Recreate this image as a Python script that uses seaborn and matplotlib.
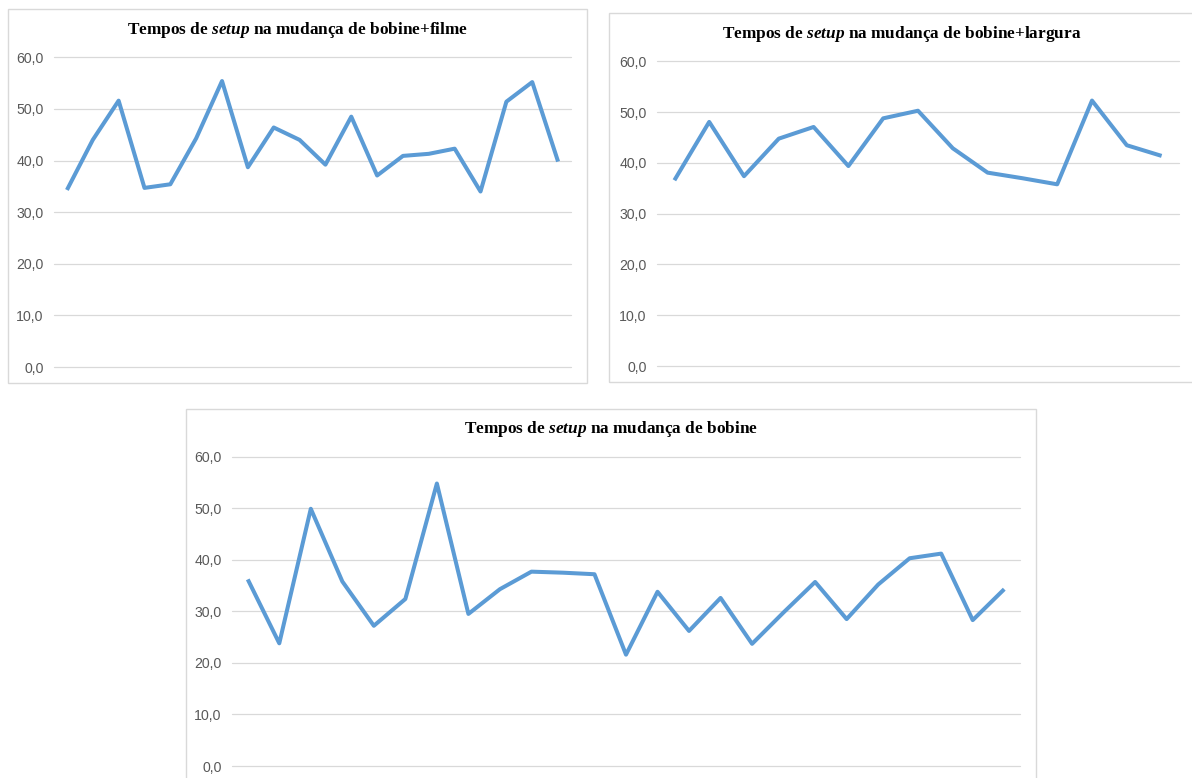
import numpy as np
import matplotlib
matplotlib.use("Agg")
import matplotlib.pyplot as plt
from matplotlib.patches import Rectangle
import seaborn as sns

# Setup times (minutes) for each changeover type
filme = [34.3, 44.0, 51.6, 34.7, 35.4, 44.3, 55.4, 38.7, 46.4, 44.0,
         39.2, 48.5, 37.1, 40.9, 41.3, 42.3, 34.0, 51.4, 55.2, 39.8]
largura = [36.6, 48.1, 37.4, 44.8, 47.1, 39.4, 48.8, 50.3, 42.9, 38.1,
           37.0, 35.8, 52.3, 43.5, 41.4]
bobine = [36.2, 23.8, 49.9, 35.8, 27.2, 32.4, 54.8, 29.5, 34.3, 37.7,
          37.5, 37.2, 21.6, 33.8, 26.2, 32.6, 23.7, 29.8, 35.7, 28.5,
          35.2, 40.3, 41.2, 28.3, 34.3]

y_ticks = [0, 10, 20, 30, 40, 50, 60]
y_labels = ["0,0", "10,0", "20,0", "30,0", "40,0", "50,0", "60,0"]

titles = [
    r"Tempos de $\mathit{setup}$ na mudança de bobine+filme",
    r"Tempos de $\mathit{setup}$ na mudança de bobine+largura",
    r"Tempos de $\mathit{setup}$ na mudança de bobine",
]

sns.set_theme(style="white")
plt.rcParams["font.family"] = ["Liberation Sans", "DejaVu Sans"]
plt.rcParams["mathtext.fontset"] = "custom"
plt.rcParams["mathtext.rm"] = "Liberation Serif:bold"
plt.rcParams["mathtext.bf"] = "Liberation Serif:bold"
plt.rcParams["mathtext.it"] = "Liberation Serif:italic:bold"

W, H = 1192, 778
fig = plt.figure(figsize=(W / 100, H / 100), dpi=100)
fig.patch.set_facecolor("white")

LINE = "#5B9BD5"
GRID = "#D9D9D9"
BORDER = "#D9D9D9"


def box(l, t, r, b):
    return [l / W, 1 - b / H, (r - l) / W, (b - t) / H]


def frame(l, t, r, b):
    fig.patches.append(Rectangle((l / W, 1 - b / H), (r - l) / W, (b - t) / H,
                                 transform=fig.transFigure, fill=False,
                                 edgecolor=BORDER, linewidth=1.0, zorder=0))


def panel(values, title, axbox, title_xy):
    ax = fig.add_axes(box(*axbox))
    x = np.arange(len(values))
    sns.lineplot(x=x, y=values, ax=ax, color=LINE, linewidth=2.9,
                 solid_joinstyle="round", solid_capstyle="butt")
    ax.set_xlim(-0.5, len(values) - 0.5)
    ax.set_ylim(0, 60)
    ax.set_yticks(y_ticks)
    ax.set_yticklabels(y_labels)
    ax.set_xticks([])
    ax.tick_params(axis="y", length=0, pad=7.5, labelsize=10.2,
                   labelcolor="#595959")
    ax.grid(axis="y", color=GRID, linewidth=0.9)
    ax.set_axisbelow(True)
    for gl in ax.get_ygridlines():
        gl.set_clip_on(False)
    for s in ax.spines.values():
        s.set_visible(False)
    ax.set_xlabel("")
    ax.set_ylabel("")
    ax.patch.set_alpha(0)
    fig.text(title_xy[0] / W, 1 - title_xy[1] / H, title, ha="center",
             va="center", fontsize=12.4, fontweight="bold",
             family="Liberation Serif", color="#000000")
    return ax


frame(8, 9, 587, 383)
frame(609, 13, 1200, 382)
frame(186, 409, 1036, 790)

panel(filme, titles[0], (54, 57.3, 571, 367), (298, 30))
panel(largura, titles[1], (657, 61.5, 1179, 366), (902, 34))
panel(bobine, titles[2], (232, 456.7, 1020, 766), (611, 429))

fig.savefig("out.png", dpi=100, facecolor="white")
